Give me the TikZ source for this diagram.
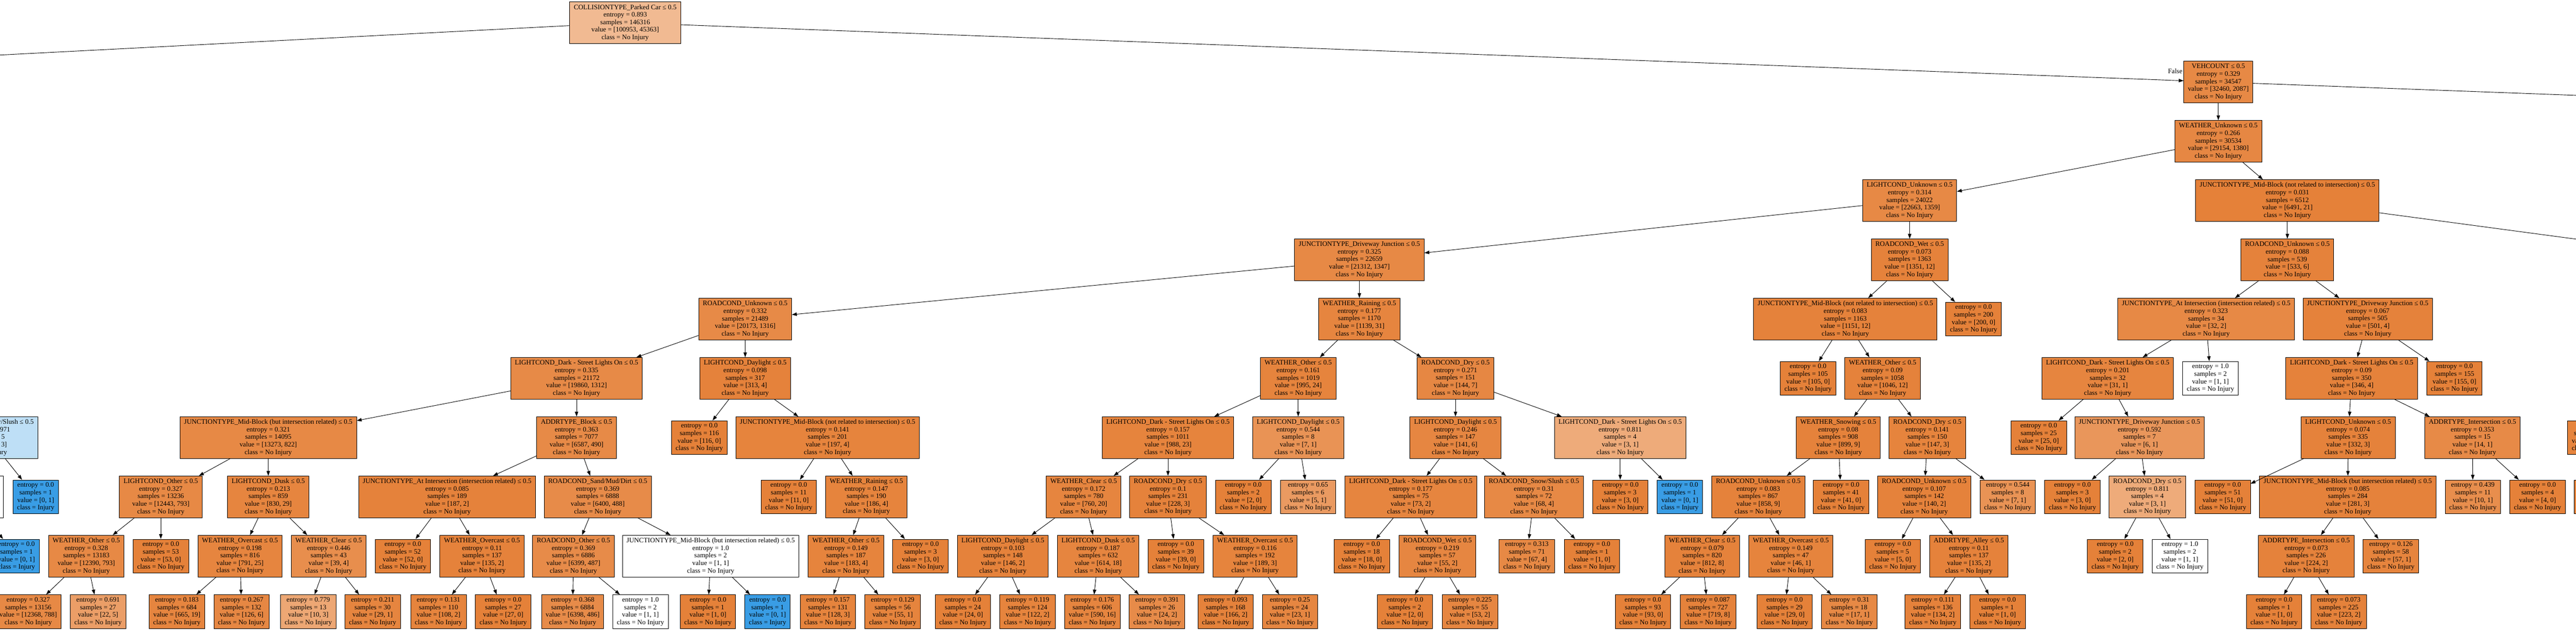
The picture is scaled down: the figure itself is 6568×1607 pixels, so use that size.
\documentclass[tikz,border=0pt]{standalone}
\usepackage{fontspec}
\setmainfont{Liberation Serif}
\usetikzlibrary{arrows.meta}
\definecolor{cO}{RGB}{229,129,57}
\definecolor{cB}{RGB}{57,157,229}
\tikzset{
  tbox/.style={draw=black, line width=1.2pt, rectangle, align=center, inner xsep=10.5pt, inner ysep=0pt, font=\fontsize{17.4}{19.2}\selectfont},
  inode/.style={tbox, minimum height=106pt},
  lnode/.style={tbox, minimum height=86pt},
  conn/.style={draw=black, line width=1.2pt, -{Triangle[length=12.4pt,width=8.7pt]}},
}
\newcommand{\TNi}[8]{\node[inode, fill=#4] (#1) at (#2,#3) {#5\\entropy = #6\\samples = #7\\value = [#8]\\class = No Injury};}
\newcommand{\TNl}[7]{\node[lnode, fill=#4] (#1) at (#2,#3) {entropy = #5\\samples = #6\\value = [#7]\\class = No Injury};}
\begin{document}
\begin{tikzpicture}[x=1pt,y=-1pt]
\useasboundingbox (0,0) rectangle (6568,1607);
\clip (0,0) rectangle (6568,1607);
\fill[white] (0,0) rectangle (6568,1607);
% L0
\TNi{r}{1594}{58}{cO!55!white}{COLLISIONTYPE\_Parked Car ≤ 0.5}{0.893}{146316}{100953, 45363}
% L1
\TNi{v}{5656}{209}{cO!94!white}{VEHCOUNT ≤ 0.5}{0.329}{34547}{32460, 2087}
\node[font=\fontsize{17.4}{19.2}\selectfont] (flab) at (5546,181) {False};
% L2
\TNi{wu}{5656}{360}{cO!95!white}{WEATHER\_Unknown ≤ 0.5}{0.266}{30534}{29154, 1380}
% L3
\TNi{lu}{4869}{511}{cO!94!white}{LIGHTCOND\_Unknown ≤ 0.5}{0.314}{24022}{22663, 1359}
\TNi{jm}{5832}{511}{cO!100!white}{JUNCTIONTYPE\_Mid-Block (not related to intersection) ≤ 0.5}{0.031}{6512}{6491, 21}
% L4
\TNi{jd}{3466}{662}{cO!94!white}{JUNCTIONTYPE\_Driveway Junction ≤ 0.5}{0.325}{22659}{21312, 1347}
\TNi{rw}{4869}{662}{cO!99!white}{ROADCOND\_Wet ≤ 0.5}{0.073}{1363}{1351, 12}
\TNi{ru}{5832}{662}{cO!99!white}{ROADCOND\_Unknown ≤ 0.5}{0.088}{539}{533, 6}
% L5
\TNi{rcu}{1900}{813}{cO!93!white}{ROADCOND\_Unknown ≤ 0.5}{0.332}{21489}{20173, 1316}
\TNi{wr}{3466}{813}{cO!97!white}{WEATHER\_Raining ≤ 0.5}{0.177}{1170}{1139, 31}
\TNi{jm2}{4705}{813}{cO!99!white}{JUNCTIONTYPE\_Mid-Block (not related to intersection) ≤ 0.5}{0.083}{1163}{1151, 12}
\TNl{l200}{5032}{813}{cO}{0.0}{200}{200, 0}
\TNi{ja}{5625}{813}{cO!94!white}{JUNCTIONTYPE\_At Intersection (intersection related) ≤ 0.5}{0.323}{34}{32, 2}
\TNi{jd2}{6037}{813}{cO!99!white}{JUNCTIONTYPE\_Driveway Junction ≤ 0.5}{0.067}{505}{501, 4}
% L6
\TNi{ld}{1470}{964}{cO!93!white}{LIGHTCOND\_Dark - Street Lights On ≤ 0.5}{0.335}{21172}{19860, 1312}
\TNi{ldl}{1900}{964}{cO!99!white}{LIGHTCOND\_Daylight ≤ 0.5}{0.098}{317}{313, 4}
\TNi{wo}{3310}{964}{cO!98!white}{WEATHER\_Other ≤ 0.5}{0.161}{1019}{995, 24}
\TNi{rd}{3711}{964}{cO!95!white}{ROADCOND\_Dry ≤ 0.5}{0.271}{151}{144, 7}
\TNl{l105}{4610}{964}{cO}{0.0}{105}{105, 0}
\TNi{wo2}{4800}{964}{cO!99!white}{WEATHER\_Other ≤ 0.5}{0.09}{1058}{1046, 12}
\TNi{ld2}{5374}{964}{cO!97!white}{LIGHTCOND\_Dark - Street Lights On ≤ 0.5}{0.201}{32}{31, 1}
\TNl{l2w}{5636}{964}{white}{1.0}{2}{1, 1}
\TNi{ld3}{5996}{964}{cO!99!white}{LIGHTCOND\_Dark - Street Lights On ≤ 0.5}{0.09}{350}{346, 4}
\TNl{l155}{6258}{964}{cO}{0.0}{155}{155, 0}
% L7
\TNi{jb}{684}{1115}{cO!94!white}{JUNCTIONTYPE\_Mid-Block (but intersection related) ≤ 0.5}{0.321}{14095}{13273, 822}
\TNi{ab}{1470}{1115}{cO!93!white}{ADDRTYPE\_Block ≤ 0.5}{0.363}{7077}{6587, 490}
\TNl{l116}{1783}{1115}{cO}{0.0}{116}{116, 0}
\TNi{jm3}{2110}{1115}{cO!98!white}{JUNCTIONTYPE\_Mid-Block (not related to intersection) ≤ 0.5}{0.141}{201}{197, 4}
\TNi{ld4}{2978}{1115}{cO!98!white}{LIGHTCOND\_Dark - Street Lights On ≤ 0.5}{0.157}{1011}{988, 23}
\TNi{ldl2}{3310}{1115}{cO!86!white}{LIGHTCOND\_Daylight ≤ 0.5}{0.544}{8}{7, 1}
\TNi{ldl3}{3711}{1115}{cO!96!white}{LIGHTCOND\_Daylight ≤ 0.5}{0.246}{147}{141, 6}
\TNi{ld5}{4131}{1115}{cO!67!white}{LIGHTCOND\_Dark - Street Lights On ≤ 0.5}{0.811}{4}{3, 1}
\TNi{ws}{4687}{1115}{cO!99!white}{WEATHER\_Snowing ≤ 0.5}{0.08}{908}{899, 9}
\TNi{rd2}{4914}{1115}{cO!98!white}{ROADCOND\_Dry ≤ 0.5}{0.141}{150}{147, 3}
\TNl{l25}{5198}{1115}{cO}{0.0}{25}{25, 0}
\TNi{jd3}{5455}{1115}{cO!83!white}{JUNCTIONTYPE\_Driveway Junction ≤ 0.5}{0.592}{7}{6, 1}
\TNi{lu2}{5987}{1115}{cO!99!white}{LIGHTCOND\_Unknown ≤ 0.5}{0.074}{335}{332, 3}
\TNi{ai}{6304}{1115}{cO!93!white}{ADDRTYPE\_Intersection ≤ 0.5}{0.353}{15}{14, 1}
% L8
\TNi{lo}{410}{1266}{cO!94!white}{LIGHTCOND\_Other ≤ 0.5}{0.327}{13236}{12443, 793}
\TNi{lk}{684}{1266}{cO!97!white}{LIGHTCOND\_Dusk ≤ 0.5}{0.213}{859}{830, 29}
\TNi{ja2}{1140}{1266}{cO!99!white}{JUNCTIONTYPE\_At Intersection (intersection related) ≤ 0.5}{0.085}{189}{187, 2}
\TNi{rs}{1524}{1266}{cO!92!white}{ROADCOND\_Sand/Mud/Dirt ≤ 0.5}{0.369}{6888}{6400, 488}
\TNl{l11}{2011}{1266}{cO}{0.0}{11}{11, 0}
\TNi{wr2}{2209}{1266}{cO!98!white}{WEATHER\_Raining ≤ 0.5}{0.147}{190}{186, 4}
\TNi{wc}{2763}{1266}{cO!97!white}{WEATHER\_Clear ≤ 0.5}{0.172}{780}{760, 20}
\TNi{rd3}{2978}{1266}{cO!99!white}{ROADCOND\_Dry ≤ 0.5}{0.1}{231}{228, 3}
\TNl{l2a}{3170}{1266}{cO}{0.0}{2}{2, 0}
\TNl{l6}{3335}{1266}{cO!80!white}{0.65}{6}{5, 1}
\TNi{ld6}{3597}{1266}{cO!97!white}{LIGHTCOND\_Dark - Street Lights On ≤ 0.5}{0.177}{75}{73, 2}
\TNi{rss}{3911}{1266}{cO!94!white}{ROADCOND\_Snow/Slush ≤ 0.5}{0.31}{72}{68, 4}
\TNl{l3}{4131}{1266}{cO}{0.0}{3}{3, 0}
\node[lnode, fill=cB] (l1b) at (4283,1266) {entropy = 0.0\\samples = 1\\value = [0, 1]\\class = Injury};
\TNi{ru2}{4483}{1266}{cO!99!white}{ROADCOND\_Unknown ≤ 0.5}{0.083}{867}{858, 9}
\TNl{l41}{4694}{1266}{cO}{0.0}{41}{41, 0}
\TNi{ru3}{4906}{1266}{cO!99!white}{ROADCOND\_Unknown ≤ 0.5}{0.107}{142}{140, 2}
\TNl{l8}{5119}{1266}{cO!86!white}{0.544}{8}{7, 1}
\TNl{l3b}{5284}{1266}{cO}{0.0}{3}{3, 0}
\TNi{rd4}{5475}{1266}{cO!67!white}{ROADCOND\_Dry ≤ 0.5}{0.811}{4}{3, 1}
\TNl{l51}{5667}{1266}{cO}{0.0}{51}{51, 0}
\TNi{jb2}{5986}{1266}{cO!99!white}{JUNCTIONTYPE\_Mid-Block (but intersection related) ≤ 0.5}{0.085}{284}{281, 3}
\TNl{l11b}{6305}{1266}{cO!90!white}{0.439}{11}{10, 1}
\TNl{l4}{6470}{1266}{cO}{0.0}{4}{4, 0}
% L9
\TNi{wo3}{220}{1417}{cO!94!white}{WEATHER\_Other ≤ 0.5}{0.328}{13183}{12390, 793}
\TNl{l53}{410}{1417}{cO}{0.0}{53}{53, 0}
\TNi{wov}{612}{1417}{cO!97!white}{WEATHER\_Overcast ≤ 0.5}{0.198}{816}{791, 25}
\TNi{wc2}{838}{1417}{cO!90!white}{WEATHER\_Clear ≤ 0.5}{0.446}{43}{39, 4}
\TNl{l52}{1027}{1417}{cO}{0.0}{52}{52, 0}
\TNi{wov2}{1229}{1417}{cO!99!white}{WEATHER\_Overcast ≤ 0.5}{0.11}{137}{135, 2}
\TNi{ro}{1462}{1417}{cO!92!white}{ROADCOND\_Other ≤ 0.5}{0.369}{6886}{6399, 487}
\TNi{jb3}{1812}{1417}{white}{JUNCTIONTYPE\_Mid-Block (but intersection related) ≤ 0.5}{1.0}{2}{1, 1}
\TNi{wo4}{2157}{1417}{cO!98!white}{WEATHER\_Other ≤ 0.5}{0.149}{187}{183, 4}
\TNl{l3c}{2347}{1417}{cO}{0.0}{3}{3, 0}
\TNi{ldl4}{2557}{1417}{cO!99!white}{LIGHTCOND\_Daylight ≤ 0.5}{0.103}{148}{146, 2}
\TNi{lk2}{2800}{1417}{cO!97!white}{LIGHTCOND\_Dusk ≤ 0.5}{0.187}{632}{614, 18}
\TNl{l39}{2998}{1417}{cO}{0.0}{39}{39, 0}
\TNi{wov3}{3200}{1417}{cO!98!white}{WEATHER\_Overcast ≤ 0.5}{0.116}{192}{189, 3}
\TNl{l18}{3472}{1417}{cO}{0.0}{18}{18, 0}
\TNi{rw2}{3665}{1417}{cO!96!white}{ROADCOND\_Wet ≤ 0.5}{0.219}{57}{55, 2}
\TNl{l71}{3893}{1417}{cO!94!white}{0.313}{71}{67, 4}
\TNl{l1c}{4059}{1417}{cO}{0.0}{1}{1, 0}
\TNi{wc3}{4340}{1417}{cO!99!white}{WEATHER\_Clear ≤ 0.5}{0.079}{820}{812, 8}
\TNi{wov4}{4566}{1417}{cO!98!white}{WEATHER\_Overcast ≤ 0.5}{0.149}{47}{46, 1}
\TNl{l5}{4826}{1417}{cO}{0.0}{5}{5, 0}
\TNi{aa}{5020}{1417}{cO!99!white}{ADDRTYPE\_Alley ≤ 0.5}{0.11}{137}{135, 2}
\TNl{l2b}{5393}{1417}{cO}{0.0}{2}{2, 0}
\TNl{l2w2}{5558}{1417}{white}{1.0}{2}{1, 1}
\TNi{ai2}{5880}{1417}{cO!99!white}{ADDRTYPE\_Intersection ≤ 0.5}{0.073}{226}{224, 2}
\TNl{l58}{6096}{1417}{cO!98!white}{0.126}{58}{57, 1}
% L10
\TNl{m1}{72}{1558.5}{cO!94!white}{0.327}{13156}{12368, 788}
\TNl{m2}{250}{1558.5}{cO!77!white}{0.691}{27}{22, 5}
\TNl{m3}{451}{1558.5}{cO!97!white}{0.183}{684}{665, 19}
\TNl{m4}{616}{1558.5}{cO!95!white}{0.267}{132}{126, 6}
\TNl{m5}{786}{1558.5}{cO!70!white}{0.779}{13}{10, 3}
\TNl{m6}{950}{1558.5}{cO!97!white}{0.211}{30}{29, 1}
\TNl{m7}{1118}{1558.5}{cO!98!white}{0.131}{110}{108, 2}
\TNl{m8}{1283}{1558.5}{cO}{0.0}{27}{27, 0}
\TNl{m9}{1460}{1558.5}{cO!92!white}{0.368}{6884}{6398, 486}
\TNl{m10}{1633}{1558.5}{white}{1.0}{2}{1, 1}
\TNl{m11}{1805}{1558.5}{cO}{0.0}{1}{1, 0}
\node[lnode, fill=cB] (m12) at (1957,1558.5) {entropy = 0.0\\samples = 1\\value = [0, 1]\\class = Injury};
\TNl{m13}{2111}{1558.5}{cO!98!white}{0.157}{131}{128, 3}
\TNl{m14}{2276}{1558.5}{cO!98!white}{0.129}{56}{55, 1}
\TNl{m15}{2455}{1558.5}{cO}{0.0}{24}{24, 0}
\TNl{m16}{2620}{1558.5}{cO!98!white}{0.119}{124}{122, 2}
\TNl{m17}{2785}{1558.5}{cO!97!white}{0.176}{606}{590, 16}
\TNl{m18}{2950}{1558.5}{cO!92!white}{0.391}{26}{24, 2}
\TNl{m19}{3125}{1558.5}{cO!99!white}{0.093}{168}{166, 2}
\TNl{m20}{3289}{1558.5}{cO!96!white}{0.25}{24}{23, 1}
\TNl{m21}{3582}{1558.5}{cO}{0.0}{2}{2, 0}
\TNl{m22}{3748}{1558.5}{cO!96!white}{0.225}{55}{53, 2}
\TNl{m23}{4189}{1558.5}{cO}{0.0}{93}{93, 0}
\TNl{m24}{4355}{1558.5}{cO!99!white}{0.087}{727}{719, 8}
\TNl{m25}{4550}{1558.5}{cO}{0.0}{29}{29, 0}
\TNl{m26}{4715}{1558.5}{cO!94!white}{0.31}{18}{17, 1}
\TNl{m27}{4928}{1558.5}{cO!99!white}{0.111}{136}{134, 2}
\TNl{m28}{5093}{1558.5}{cO}{0.0}{1}{1, 0}
\TNl{m29}{5798}{1558.5}{cO}{0.0}{1}{1, 0}
\TNl{m30}{5963}{1558.5}{cO!99!white}{0.073}{225}{223, 2}
% partial nodes at the edges
\node[inode, fill=cB!33!white, anchor=east] (pb) at (97,1115) {ROADCOND\_Snow/Slush ≤ 0.5\\entropy = 0.971\\samples = 5\\value = [2, 3]\\class = Injury};
\node[inode, fill=white, minimum width=170pt, anchor=east] (pw) at (9,1266) {};
\node[lnode, fill=cB] (pbl) at (91,1266) {entropy = 0.0\\samples = 1\\value = [0, 1]\\class = Injury};
\node[lnode, fill=cB] (pbl2) at (42,1417) {entropy = 0.0\\samples = 1\\value = [0, 1]\\class = Injury};
\node[lnode, fill=cO!98!white, anchor=west] (pr1) at (6546,1115) {entropy = 0.0\\samples = 1049\\value = [1049, 0]\\class = No Injury};
\node[lnode, fill=cO, minimum width=142pt, anchor=west] (pr2) at (6563,1266) {};
\coordinate (offL) at (-500,166);
\coordinate (offR0) at (7000,259);
\coordinate (offR1) at (7000,667);
% connectors
\foreach \a/\b in {r/v, v/wu, wu/lu, wu/jm, lu/jd, lu/rw, jm/ru, jd/rcu, jd/wr, rw/jm2, rw/l200, ru/ja, ru/jd2,
 rcu/ld, rcu/ldl, wr/wo, wr/rd, jm2/l105, jm2/wo2, ja/ld2, ja/l2w, jd2/ld3, jd2/l155,
 ld/jb, ld/ab, ldl/l116, ldl/jm3, wo/ld4, wo/ldl2, rd/ldl3, rd/ld5, wo2/ws, wo2/rd2, ld2/l25, ld2/jd3, ld3/lu2, ld3/ai,
 jb/lo, jb/lk, ab/ja2, ab/rs, jm3/l11, jm3/wr2, ld4/wc, ld4/rd3, ldl2/l2a, ldl2/l6, ldl3/ld6, ldl3/rss, ld5/l3, ld5/l1b,
 ws/ru2, ws/l41, rd2/ru3, rd2/l8, jd3/l3b, jd3/rd4, lu2/l51, lu2/jb2, ai/l11b, ai/l4,
 lo/wo3, lo/l53, lk/wov, lk/wc2, ja2/l52, ja2/wov2, rs/ro, rs/jb3, wr2/wo4, wr2/l3c, wc/ldl4, wc/lk2, rd3/l39, rd3/wov3,
 ld6/l18, ld6/rw2, rss/l71, rss/l1c, ru2/wc3, ru2/wov4, ru3/l5, ru3/aa, rd4/l2b, rd4/l2w2, jb2/ai2, jb2/l58,
 wo3/m1, wo3/m2, wov/m3, wov/m4, wc2/m5, wc2/m6, wov2/m7, wov2/m8, ro/m9, ro/m10, jb3/m11, jb3/m12,
 wo4/m13, wo4/m14, ldl4/m15, ldl4/m16, lk2/m17, lk2/m18, wov3/m19, wov3/m20, rw2/m21, rw2/m22,
 wc3/m23, wc3/m24, wov4/m25, wov4/m26, aa/m27, aa/m28, ai2/m29, ai2/m30,
 pb/pw, pb/pbl, pw/pbl2, r/offL, v/offR0, jm/offR1}
 \draw[conn] (\a) -- (\b);
\end{tikzpicture}
\end{document}
